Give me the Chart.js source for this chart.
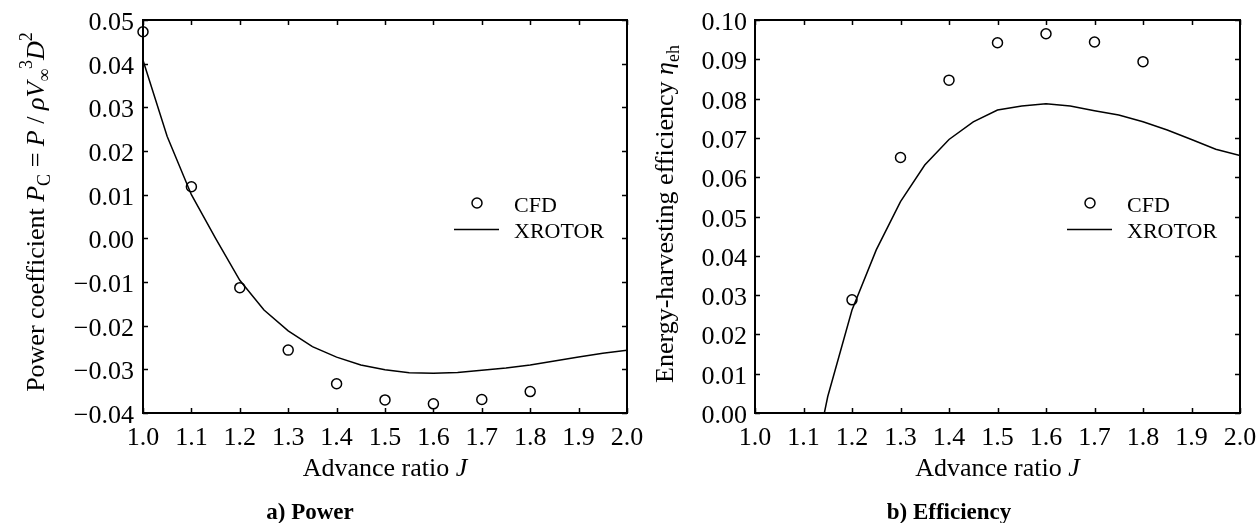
<!DOCTYPE html>
<html><head><meta charset="utf-8">
<script src="https://cdn.jsdelivr.net/npm/chart.js@4.4.0/dist/chart.umd.min.js"></script>
<style>
html,body{margin:0;padding:0;background:#fff;}
#wrap{position:relative;width:1260px;height:523px;overflow:hidden;background:#fff}
canvas{position:absolute;top:0}
#c1{left:0}
#c2{left:630px}
</style></head><body>
<div id="wrap"><canvas id="c1" width="660" height="523"></canvas><canvas id="c2" width="630" height="523"></canvas></div>
<script>
// ---- data ----
const X_TICKS = [1.0,1.1,1.2,1.3,1.4,1.5,1.6,1.7,1.8,1.9,2.0];
const POWER_TICKS = [-0.04,-0.03,-0.02,-0.01,0.00,0.01,0.02,0.03,0.04,0.05];
const EFF_TICKS = [0.00,0.01,0.02,0.03,0.04,0.05,0.06,0.07,0.08,0.09,0.10];

const J_CFD_POWER = [1.0,1.1,1.2,1.3,1.4,1.5,1.6,1.7,1.8];
const POWER_CFD = [0.0473,0.0118,-0.0113,-0.0256,-0.0333,-0.0370,-0.0379,-0.0369,-0.0351];

const J_XROTOR_POWER = [1.0,1.05,1.1,1.15,1.2,1.25,1.3,1.35,1.4,1.45,1.5,1.55,1.6,1.65,1.7,1.75,1.8,1.85,1.9,1.95,2.0];
const POWER_XROTOR = [0.0408,0.0233,0.0100,0.0000,-0.0096,-0.0164,-0.0212,-0.0248,-0.0272,-0.0290,-0.0301,-0.0308,-0.0309,-0.0307,-0.0302,-0.0297,-0.0290,-0.0281,-0.0272,-0.0263,-0.0256];

const J_CFD_EFF = [1.2,1.3,1.4,1.5,1.6,1.7,1.8];
const EFF_CFD = [0.0288,0.0650,0.0847,0.0942,0.0965,0.0944,0.0894];

const J_XROTOR_EFF = [1.143,1.15,1.2,1.25,1.3,1.35,1.4,1.45,1.5,1.55,1.6,1.65,1.7,1.75,1.8,1.85,1.9,1.95,2.0];
const EFF_XROTOR = [0.0000,0.0042,0.0262,0.0415,0.0538,0.0631,0.0696,0.0741,0.0771,0.0781,0.0787,0.0781,0.0769,0.0758,0.0741,0.0720,0.0696,0.0671,0.0655];

const FONT = "'Liberation Serif','Times New Roman',Times,serif";

function pts(xs, ys){ return xs.map((x,i)=>({x:x,y:ys[i]})); }
function fmt2(v){ if (Math.abs(v) < 1e-9) return '0.00'; return (v<0?'\u2212':'') + Math.abs(v).toFixed(2); }

function drawRuns(ctx, runs, cx, baseY){
  const base = 26, small = 18;
  const fontOf = r => (r.bold?'bold ':'') + (r.it?'italic ':'') + ((r.sub||r.sup)?small:(r.size||base)) + 'px ' + FONT;
  let total = 0;
  runs.forEach(r=>{ ctx.font = fontOf(r); r.w = ctx.measureText(r.t).width; total += r.w; });
  let x = cx - total/2;
  ctx.textBaseline = 'alphabetic'; ctx.textAlign = 'left'; ctx.fillStyle = '#000';
  runs.forEach(r=>{
    ctx.font = fontOf(r);
    const dy = r.sub ? 6 : (r.sup ? -12 : 0);
    ctx.fillText(r.t, x, baseY + dy);
    x += r.w;
  });
}

const decor = {
  id: 'decor',
  afterDraw(chart, args, o){
    const ctx = chart.ctx, a = chart.chartArea;
    const xs = chart.scales.x, ys = chart.scales.y;
    ctx.save();
    // inner ticks
    ctx.strokeStyle = '#000'; ctx.lineWidth = 1.5;
    ctx.beginPath();
    X_TICKS.forEach(v=>{
      const p = Math.round(xs.getPixelForValue(v)) + 0.5;
      ctx.moveTo(p, a.bottom); ctx.lineTo(p, a.bottom - 5);
      ctx.moveTo(p, a.top); ctx.lineTo(p, a.top + 5);
    });
    o.yTicks.forEach(v=>{
      const p = Math.round(ys.getPixelForValue(v)) + 0.5;
      ctx.moveTo(a.left, p); ctx.lineTo(a.left + 5, p);
      ctx.moveTo(a.right, p); ctx.lineTo(a.right - 5, p);
    });
    ctx.stroke();
    // frame
    ctx.lineWidth = 2;
    ctx.strokeRect(a.left, a.top, a.right - a.left, a.bottom - a.top);
    // tick labels
    ctx.fillStyle = '#000';
    ctx.font = '26px ' + FONT;
    ctx.textBaseline = 'alphabetic';
    ctx.textAlign = 'center';
    X_TICKS.forEach(v=>{ ctx.fillText(v.toFixed(1), xs.getPixelForValue(v), a.bottom + 32); });
    ctx.textAlign = 'right';
    o.yTicks.forEach(v=>{ ctx.fillText(fmt2(v), a.left - o.yPad, ys.getPixelForValue(v) + 10); });
    // x title
    drawRuns(ctx, [{t:'Advance ratio '},{t:'J',it:true}], (a.left+a.right)/2, 476);
    // subtitle
    drawRuns(ctx, [{t:o.sub, bold:true, size:23}], o.subX, 519);
    // y title rotated
    ctx.save();
    ctx.translate(o.yTitleX, o.yTitleY);
    ctx.rotate(-Math.PI/2);
    drawRuns(ctx, o.yRuns, 0, 0);
    ctx.restore();
    // legend
    const R = a.right;
    ctx.lineWidth = 1.5;
    ctx.beginPath();
    ctx.arc(R - 150, 203, 5, 0, Math.PI*2);
    ctx.stroke();
    ctx.beginPath();
    ctx.moveTo(R - 173, 229.5); ctx.lineTo(R - 128, 229.5);
    ctx.stroke();
    ctx.font = '22px ' + FONT; ctx.fillStyle = '#000';
    ctx.textAlign = 'left'; ctx.textBaseline = 'alphabetic';
    ctx.fillText('CFD', R - 113, 211.5);
    ctx.fillText('XROTOR', R - 113, 238);
    ctx.restore();
  }
};

function makeChart(id, cfg){
  return new Chart(document.getElementById(id), {
    type: 'scatter',
    data: { datasets: [
      { label:'CFD', data: cfg.cfd, showLine:false, pointStyle:'circle', pointRadius:5, pointHoverRadius:5,
        pointBorderWidth:1.5, borderColor:'#000', backgroundColor:'rgba(255,255,255,0)', clip:false, order:1 },
      { label:'XROTOR', data: cfg.xr, showLine:true, pointRadius:0, pointHoverRadius:0, borderColor:'#000',
        borderWidth:1.5, tension:0, fill:false, order:2 }
    ]},
    options: {
      responsive:false, animation:false, devicePixelRatio:1,
      layout: { padding: { top:20, right:cfg.padRight, left:0, bottom:0 } },
      plugins: { legend:{display:false}, tooltip:{enabled:false}, decor: cfg.decor },
      events: [],
      scales: {
        x: { type:'linear', min:1.0, max:2.0,
          afterBuildTicks: s => { s.ticks = X_TICKS.map(v=>({value:v})); },
          ticks: { display:false },
          grid: { display:false, drawTicks:false }, border:{display:false},
          afterFit: s => { s.height = 110; } },
        y: { type:'linear', min:cfg.ymin, max:cfg.ymax,
          afterBuildTicks: s => { s.ticks = cfg.yTicks.map(v=>({value:v})); },
          ticks: { display:false },
          grid: { display:false, drawTicks:false }, border:{display:false},
          afterFit: s => { s.width = cfg.yWidth; } }
      }
    },
    plugins: [decor]
  });
}

makeChart('c1', {
  cfd: pts(J_CFD_POWER, POWER_CFD), xr: pts(J_XROTOR_POWER, POWER_XROTOR),
  ymin:-0.04, ymax:0.05, yTicks: POWER_TICKS, yWidth:143, padRight:33,
  decor: { yTicks: POWER_TICKS, yPad:9, sub:'a) Power', subX:310, yTitleX:44, yTitleY:212,
    yRuns: [{t:'Power coefficient '},{t:'P',it:true},{t:'C',sub:true},{t:' = '},{t:'P',it:true},{t:' / '},
            {t:'\u03C1V',it:true},{t:'\u221E',sub:true},{t:'3',sup:true},{t:'D',it:true},{t:'2',sup:true}] }
});
makeChart('c2', {
  cfd: pts(J_CFD_EFF, EFF_CFD), xr: pts(J_XROTOR_EFF, EFF_XROTOR),
  ymin:0.0, ymax:0.10, yTicks: EFF_TICKS, yWidth:125, padRight:20,
  decor: { yTicks: EFF_TICKS, yPad:8, sub:'b) Efficiency', subX:319, yTitleX:43, yTitleY:214,
    yRuns: [{t:'Energy-harvesting efficiency '},{t:'\u03B7',it:true},{t:'eh',sub:true}] }
});
</script>
</body></html>
